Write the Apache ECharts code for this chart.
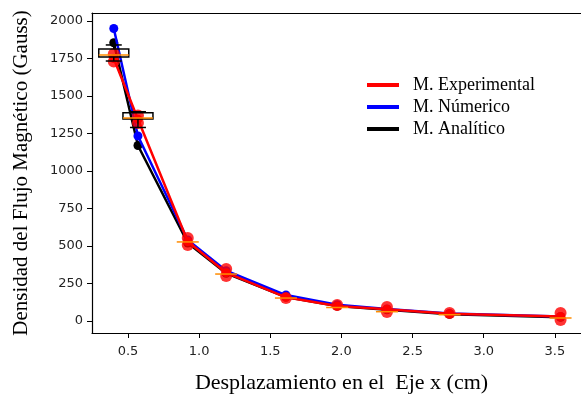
<!DOCTYPE html>
<html><head><meta charset="utf-8">
<script src="https://cdn.jsdelivr.net/npm/echarts@6/dist/echarts.min.js"></script>
<style>html,body{margin:0;padding:0;background:#fff}#c{width:581px;height:396px}</style>
</head><body><div id="c"></div>
<script>
// Data
const xs = [0.40, 0.57, 0.92, 1.19, 1.61, 1.97, 2.32, 2.76, 3.54];
const experimental = [1750, 1345, 530, 322, 158, 100, 78, 48, 30];
const numerico = [1950, 1233, 540, 335, 173, 108, 80, 50, 30];
const analitico = [1855, 1170, 520, 318, 160, 100, 75, 45, 25];
// experimental measurements (scatter)
const measX = [0.40, 0.40, 0.57, 0.57, 0.92, 0.92, 1.19, 1.19, 1.61, 1.97, 2.32, 2.32, 2.76, 3.54, 3.54];
const measY = [1730, 1780, 1370, 1320, 553, 507, 347, 300, 153, 107, 93, 60, 53, 53, 7];
// boxplot stats for first two positions: [x, low, q1, median, q3, high]
const boxX = [0.40, 0.57];
const boxLow = [1733, 1290];
const boxQ1 = [1760, 1347];
const boxMed = [1773, 1353];
const boxQ3 = [1813, 1388];
const boxHigh = [1840, 1395];
// medians at other positions
const medX = [0.92, 1.19, 1.61, 1.97, 2.32, 2.76, 3.54];
const medY = [527, 313, 153, 90, 62, 42, 20];
const yTicks = [0, 250, 500, 750, 1000, 1250, 1500, 1750, 2000];
const xTicks = [0.5, 1.0, 1.5, 2.0, 2.5, 3.0, 3.5];

const chart = echarts.init(document.getElementById('c'));
const serif = '"Liberation Serif", "Times New Roman", serif';
const sans = '"DejaVu Sans", sans-serif';

function lineSeries(name, ys, color, z) {
  return {
    name, type: 'line', z,
    data: xs.map((x, i) => [x, ys[i]]),
    lineStyle: { color, width: 2.5 },
    itemStyle: { color },
    symbol: 'circle', symbolSize: 9, showSymbol: true,
    animation: false
  };
}

const boxData = boxX.map((x, i) => [x, boxLow[i], boxQ1[i], boxMed[i], boxQ3[i], boxHigh[i]]);

chart.setOption({
  animation: false,
  grid: { left: 92, right: -10, top: 13, bottom: 63, containLabel: false, outerBoundsMode: 'none' },
  legend: {
    left: 362, top: 71, orient: 'vertical', itemGap: 4,
    itemWidth: 32, itemHeight: 4,
    icon: 'rect',
    data: ['M. Experimental', 'M. Númerico', 'M. Analítico'],
    textStyle: { fontFamily: serif, fontSize: 18, color: '#000', padding: [0, 0, 0, 9] }
  },
  xAxis: [{
    type: 'value', min: 0.247, max: 3.754, interval: 0.5,
    axisLine: { show: true, onZero: false, lineStyle: { color: '#000', width: 1.2 } },
    axisTick: { show: true, length: 5, lineStyle: { color: '#000' }, customValues: xTicks },
    axisLabel: { fontFamily: sans, fontSize: 13, color: '#222', margin: 12, customValues: xTicks, formatter: v => v.toFixed(1) },
    splitLine: { show: false },
    name: 'Desplazamiento en el  Eje x (cm)', nameLocation: 'middle', nameGap: 39,
    nameTextStyle: { fontFamily: serif, fontSize: 22, color: '#000' }
  }, {
    type: 'value', position: 'top', min: 0.247, max: 3.754,
    axisLine: { show: true, onZero: false, lineStyle: { color: '#000', width: 1.2 } },
    axisTick: { show: false }, axisLabel: { show: false }, splitLine: { show: false }
  }],
  yAxis: {
    type: 'value', min: -80, max: 2053,
    axisLine: { show: true, onZero: false, lineStyle: { color: '#000', width: 1.2 } },
    axisTick: { show: true, length: 5, lineStyle: { color: '#000' }, customValues: yTicks },
    axisLabel: { fontFamily: sans, fontSize: 13, color: '#222', margin: 9, customValues: yTicks, formatter: v => String(v) },
    splitLine: { show: false },
    name: 'Densidad del Flujo Magnético (Gauss)', nameLocation: 'middle', nameGap: 60,
    nameTextStyle: { fontFamily: serif, fontSize: 21, color: '#000' }
  },
  series: [
    {
      type: 'custom', z: 5, silent: true,
      data: boxData,
      renderItem: function (params, api) {
        const x = api.value(0);
        const q1 = api.coord([x, api.value(2)]);
        const q3 = api.coord([x, api.value(4)]);
        const hw = 15;
        return { type: 'rect', shape: { x: q1[0] - hw, y: q3[1], width: 2 * hw, height: q1[1] - q3[1] },
          style: { fill: '#fff', stroke: null } };
      }
    },
    lineSeries('M. Analítico', analitico, '#000', 6),
    lineSeries('M. Númerico', numerico, '#0000ff', 7),
    lineSeries('M. Experimental', experimental, '#ff0000', 8),
    {
      type: 'scatter', z: 9, silent: true,
      data: measX.map((x, i) => [x, measY[i]]),
      symbol: 'circle', symbolSize: 12,
      itemStyle: { color: '#ff0000' }
    },
    {
      type: 'custom', z: 10, silent: true,
      data: boxData,
      renderItem: function (params, api) {
        const x = api.value(0);
        const lo = api.coord([x, api.value(1)]);
        const q1 = api.coord([x, api.value(2)]);
        const md = api.coord([x, api.value(3)]);
        const q3 = api.coord([x, api.value(4)]);
        const hi = api.coord([x, api.value(5)]);
        const hw = 15, cw = 8;
        const blk = { stroke: '#000', lineWidth: 1.5, fill: null };
        return { type: 'group', children: [
          { type: 'line', shape: { x1: lo[0], y1: lo[1], x2: q1[0], y2: q1[1] }, style: blk },
          { type: 'line', shape: { x1: hi[0], y1: hi[1], x2: q3[0], y2: q3[1] }, style: blk },
          { type: 'line', shape: { x1: lo[0] - cw, y1: lo[1], x2: lo[0] + cw, y2: lo[1] }, style: blk },
          { type: 'line', shape: { x1: hi[0] - cw, y1: hi[1], x2: hi[0] + cw, y2: hi[1] }, style: blk },
          { type: 'rect', shape: { x: q1[0] - hw, y: q3[1], width: 2 * hw, height: q1[1] - q3[1] }, style: blk },
          { type: 'line', shape: { x1: md[0] - hw, y1: md[1], x2: md[0] + hw, y2: md[1] }, style: { stroke: '#ff8c00', lineWidth: 1.5 } }
        ] };
      }
    },
    {
      type: 'custom', z: 11, silent: true,
      data: medX.map((x, i) => [x, medY[i]]),
      renderItem: function (params, api) {
        const p = api.coord([api.value(0), api.value(1)]);
        return { type: 'line', shape: { x1: p[0] - 11, y1: p[1], x2: p[0] + 11, y2: p[1] },
          style: { stroke: '#ff8c00', lineWidth: 1.5 } };
      }
    }
  ]
});
</script></body></html>
